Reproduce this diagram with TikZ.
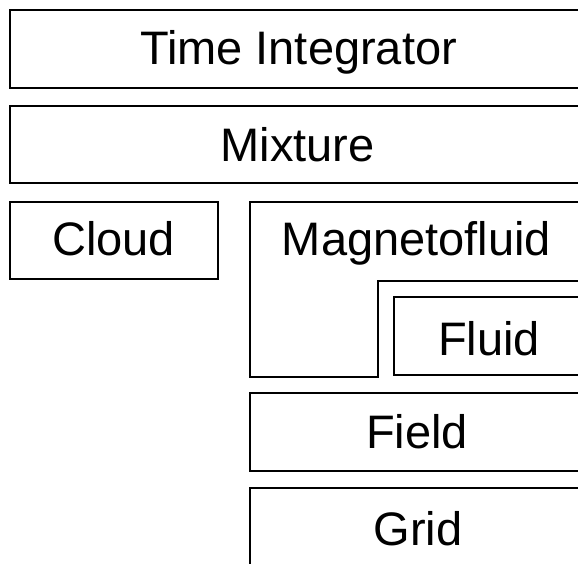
\documentclass[tikz,border=0pt]{standalone}
\usepackage{fontspec}
\setmainfont{Liberation Sans}
\begin{document}
\begin{tikzpicture}[x=1pt,y=-1pt,
  boxline/.style={draw=black,line width=1.2pt},
  lbl/.style={anchor=base,inner sep=0pt,font=\fontsize{47}{54}\selectfont}]
\useasboundingbox (0,0) rectangle (578,564);
\clip (0,0) rectangle (578,564);
% boxes
\draw[boxline] (620,10) -- (10,10) -- (10,88) -- (620,88);
\draw[boxline] (620,106) -- (10,106) -- (10,183) -- (620,183);
\draw[boxline] (10,202) rectangle (218,279);
\draw[boxline] (620,202) -- (250,202) -- (250,377) -- (378,377) -- (378,281) -- (620,281);
\draw[boxline] (620,297) -- (394,297) -- (394,375) -- (620,375);
\draw[boxline] (620,393) -- (250,393) -- (250,471) -- (620,471);
\draw[boxline] (620,488) -- (250,488) -- (250,620);
% labels
\node[lbl] (time) at (298.5,65) {Time Integrator};
\node[lbl] (mix) at (297.5,162) {Mixture};
\node[lbl] (cloud) at (113.5,255) {Cloud};
\node[lbl] (mag) at (416.5,255) {Magnetofluid};
\node[lbl] (fluid) at (489,355) {Fluid};
\node[lbl] (field) at (417,448) {Field};
\node[lbl] (grid) at (418,545) {Grid};
\end{tikzpicture}
\end{document}
